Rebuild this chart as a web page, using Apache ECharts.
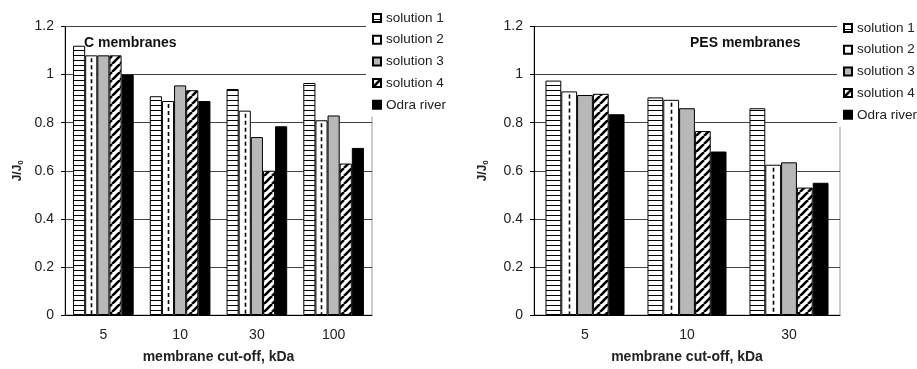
<!DOCTYPE html>
<html>
<head>
<meta charset="utf-8">
<script src="https://cdn.jsdelivr.net/npm/echarts@6/dist/echarts.min.js"></script>
<style>
html, body { margin: 0; padding: 0; background: #fff; }
#main { width: 917px; height: 369px; }
</style>
</head>
<body>
<div id="main"></div>
<script>
var names = ['solution 1', 'solution 2', 'solution 3', 'solution 4', 'Odra river'];
var cutC = ['5', '10', '30', '100'];
var cutPES = ['5', '10', '30'];
// C membranes
var c1 = [1.12, 0.91, 0.94, 0.965];
var c2 = [1.08, 0.89, 0.85, 0.81];
var c3 = [1.08, 0.955, 0.74, 0.83];
var c4 = [1.08, 0.935, 0.60, 0.63];
var cOdra = [1.0, 0.89, 0.785, 0.695];
// PES membranes
var p1 = [0.975, 0.905, 0.86];
var p2 = [0.93, 0.895, 0.625];
var p3 = [0.915, 0.86, 0.635];
var p4 = [0.92, 0.765, 0.53];
var pOdra = [0.835, 0.68, 0.55];

var font = 'Liberation Sans, Arial, sans-serif';

function pattern(w, h, draw) {
    var cv = document.createElement('canvas');
    cv.width = w; cv.height = h;
    var g = cv.getContext('2d');
    g.fillStyle = '#fff';
    g.fillRect(0, 0, w, h);
    draw(g, w, h);
    return { image: cv, repeat: 'repeat' };
}
var hLines = pattern(4, 5, function (g, w, h) {
    g.fillStyle = '#000';
    g.fillRect(0, 0, w, 1);
});
var diag = pattern(8, 8, function (g, w, h) {
    g.strokeStyle = '#000';
    g.lineWidth = 2.6;
    for (var k = -1; k <= 1; k++) {
        g.beginPath();
        g.moveTo(k * w, h);
        g.lineTo(k * w + w, 0);
        g.stroke();
    }
});
var fills = [hLines, '#fff', '#b8b8b8', diag, '#000'];

function bars(data, gi, gap) {
    return data.map(function (d, i) {
        return {
            name: names[i],
            type: 'bar',
            xAxisIndex: gi,
            yAxisIndex: gi,
            barGap: '0%',
            barCategoryGap: gap,
            itemStyle: { color: fills[i], borderColor: '#000', borderWidth: 1 },
            data: d
        };
    });
}

// dashed centre line of the "solution 2" bars
function dashes(data, gi, gap) {
    return {
        type: 'custom',
        xAxisIndex: gi,
        yAxisIndex: gi,
        silent: true,
        z: 3,
        encode: { x: 0, y: 1 },
        data: data.map(function (v, i) { return [i, v]; }),
        renderItem: function (params, api) {
            var top = api.coord([api.value(0), api.value(1)]);
            var base = api.coord([api.value(0), 0]);
            var w = api.size([1, 0])[0] * (1 - gap) / 5;
            var x = Math.round(top[0] - w) + 0.5;
            return {
                type: 'line',
                shape: { x1: x, y1: top[1] + 3, x2: x, y2: base[1] },
                style: { stroke: '#000', lineWidth: 1.6, lineDash: [4, 3] }
            };
        }
    };
}

function xAx(gi, cats) {
    return {
        type: 'category',
        gridIndex: gi,
        data: cats,
        axisLine: { lineStyle: { color: '#000' } },
        axisTick: { length: 5, lineStyle: { color: '#000' } },
        axisLabel: { fontSize: 14, color: '#222', margin: 13, fontFamily: font },
        name: 'membrane cut-off, kDa',
        nameLocation: 'middle',
        nameGap: 35,
        nameTextStyle: { fontSize: 14, fontWeight: 'bold', color: '#222', fontFamily: font }
    };
}
function yAx(gi, gapName) {
    return {
        type: 'value',
        gridIndex: gi,
        min: 0, max: 1.2, interval: 0.2,
        axisLine: { show: true, lineStyle: { color: '#000' } },
        axisTick: { show: true, length: 4, lineStyle: { color: '#000' } },
        axisLabel: { fontSize: 14, color: '#222', margin: 11, fontFamily: font },
        splitLine: { lineStyle: { color: '#444' } },
        name: '{a|J/J}{b|0}',
        nameLocation: 'middle',
        nameGap: gapName,
        nameTextStyle: {
            rich: {
                a: { fontSize: 12, fontWeight: 'bold', color: '#222', fontFamily: font },
                b: { fontSize: 8, fontWeight: 'bold', color: '#222', fontFamily: font, padding: [6, 0, 0, 0] }
            }
        }
    };
}
function leg(left, top) {
    return {
        data: names,
        orient: 'vertical',
        left: left,
        top: top,
        padding: [5, 4, 5, 6],
        backgroundColor: '#fff',
        itemWidth: 8,
        itemHeight: 8,
        itemGap: 7.7,
        icon: 'rect',
        textStyle: { fontSize: 13.5, lineHeight: 14, color: '#222', fontFamily: font }
    };
}

var chart = echarts.init(document.getElementById('main'));
chart.setOption({
    animation: false,
    title: [
        { text: 'C membranes', left: 84, top: 36, padding: 0,
          textStyle: { fontSize: 14, fontWeight: 'bold', color: '#111', fontFamily: font } },
        { text: 'PES membranes', left: 690, top: 36, padding: 0,
          textStyle: { fontSize: 14, fontWeight: 'bold', color: '#111', fontFamily: font } }
    ],
    legend: [leg(366, 6), leg(837, 16)],
    grid: [
        { left: 65, right: 545, top: 26.5, bottom: 52.3, show: true, borderColor: '#999', borderWidth: 1 },
        { left: 534, right: 77, top: 26.5, bottom: 52.3, show: true, borderColor: '#999', borderWidth: 1 }
    ],
    xAxis: [xAx(0, cutC), xAx(1, cutPES)],
    yAxis: [yAx(0, 40), yAx(1, 44)],
    series: []
        .concat(bars([c1, c2, c3, c4, cOdra], 0, '21%'))
        .concat([dashes(c2, 0, 0.21)])
        .concat(bars([p1, p2, p3, p4, pOdra], 1, '22.5%'))
        .concat([dashes(p2, 1, 0.225)])
});
</script>
</body>
</html>
